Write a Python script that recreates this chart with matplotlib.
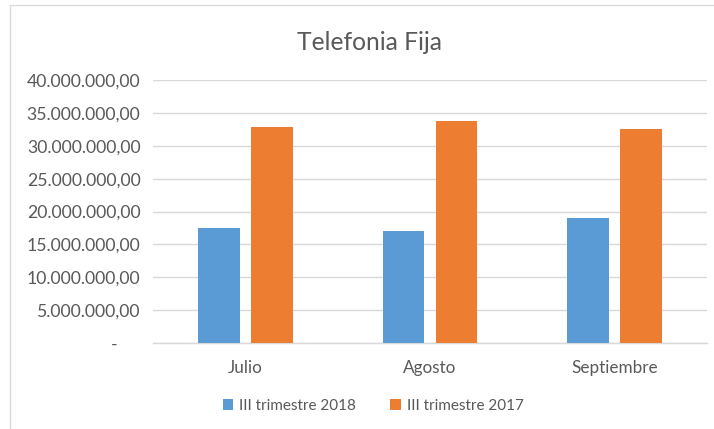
import matplotlib
matplotlib.use("Agg")
import matplotlib.pyplot as plt
import numpy as np
from matplotlib.patches import Rectangle
from matplotlib.ticker import FixedLocator

plt.rcParams['font.family'] = ['Lato', 'DejaVu Sans']

title = "Telefonia Fija"
categories = ["Julio", "Agosto", "Septiembre"]
series_names = ["III trimestre 2018", "III trimestre 2017"]
values_2018 = [17420000, 17020000, 18940000]
values_2017 = [32780000, 33790000, 32530000]
colors = ["#5B9BD5", "#ED7D31"]
yticks = [0, 5000000, 10000000, 15000000, 20000000, 25000000, 30000000, 35000000, 40000000]


def fmt(v):
    if v == 0:
        return "-     "
    s = f"{v:,.2f}"
    return s.replace(",", "X").replace(".", ",").replace("X", ".")


W, H = 714, 429
fig = plt.figure(figsize=(W / 100, H / 100), dpi=100)
fig.patch.set_facecolor("white")

# chart border
fig.patches.append(Rectangle((10 / W, -0.1), 1.2, 1 - 5 / H + 0.1, transform=fig.transFigure,
                             fill=False, edgecolor="#D9D9D9", linewidth=1.0))

ax = fig.add_axes([153 / W, 1 - 343 / H, (707 - 153) / W, (343 - 80) / H])
x = np.arange(len(categories))
bw = 0.224
off = 0.1435
ax.bar(x - off, values_2018, bw, color=colors[0], label=series_names[0], zorder=3)
ax.bar(x + off, values_2017, bw, color=colors[1], label=series_names[1], zorder=3)

ax.set_xlim(-0.5, len(categories) - 0.5)
ax.set_ylim(0, 40000000)
ax.yaxis.set_major_locator(FixedLocator(yticks))
ax.set_yticklabels([fmt(v) for v in yticks])
ax.set_xticks(x)
ax.set_xticklabels(categories)
ax.tick_params(axis="both", length=0, colors="#595959")
ax.tick_params(axis="y", pad=9, labelsize=12.7)
ax.tick_params(axis="x", pad=12, labelsize=12.3)
ax.grid(axis="y", color="#D9D9D9", linewidth=1.0, zorder=0)
for s in ["top", "right", "left"]:
    ax.spines[s].set_visible(False)
ax.spines["bottom"].set_color("#D9D9D9")
ax.spines["bottom"].set_linewidth(1.0)

fig.text(369 / W, 1 - 42 / H, title, ha="center", va="center", fontsize=17.7, color="#595959")

leg = fig.legend(loc="center", bbox_to_anchor=(373 / W, 1 - 406 / H), ncol=2, frameon=False,
                 fontsize=11, handlelength=0.7, handleheight=0.7, handletextpad=0.4,
                 columnspacing=2.2, labelcolor="#595959")

fig.savefig("out.png", dpi=100, facecolor="white")
